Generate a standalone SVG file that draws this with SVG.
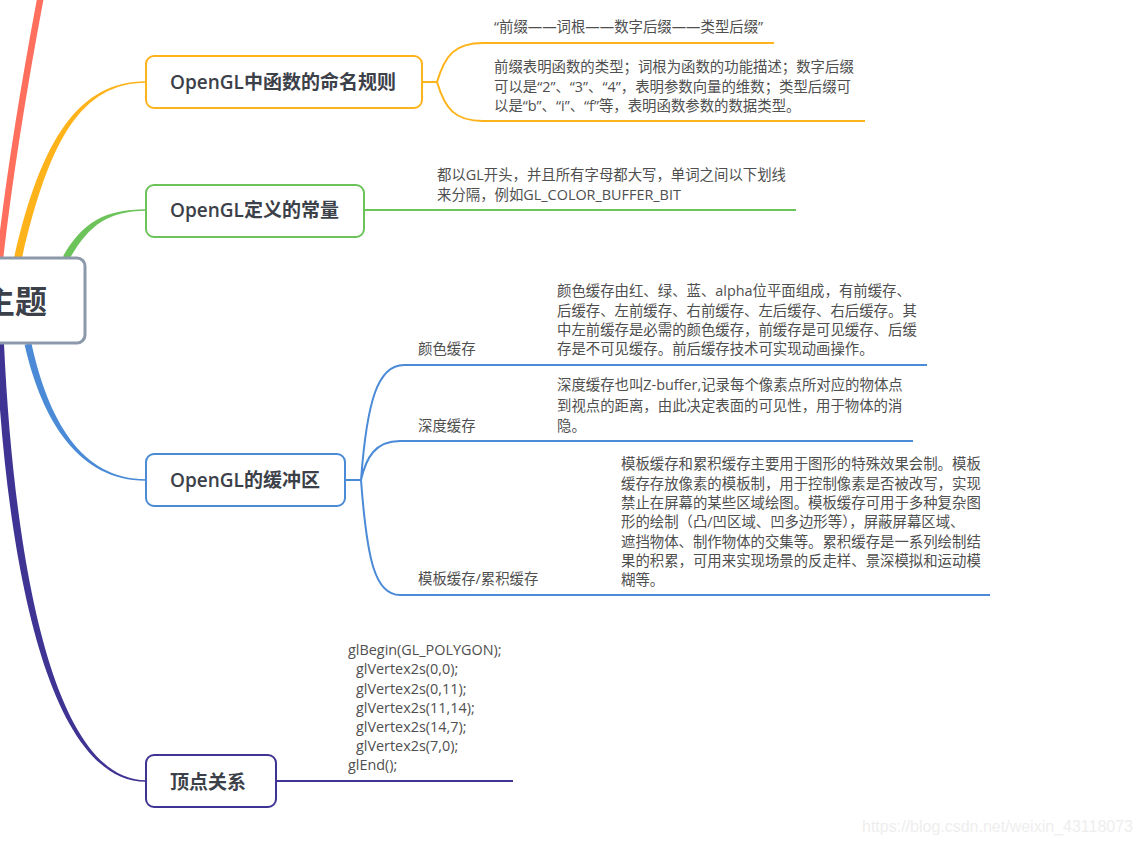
<svg xmlns="http://www.w3.org/2000/svg" width="1141" height="845" viewBox="0 0 1141 845">
<style>
  .node rect { fill: #ffffff; stroke-width: 2; }
  .ntext { font-family: "Open Sans", "Noto Sans CJK SC", sans-serif; font-size: 19px; font-weight: 600; fill: #3b4049; }
  .desc { font-family: "Open Sans", "Noto Sans CJK SC", sans-serif; font-size: 14.4px; fill: #4f4f4f; }
  .line { fill: none; stroke-width: 2; }
  .orange { stroke: #ffb31a; }
  .green { stroke: #6cc35a; }
  .blue { stroke: #4a8ad6; }
  .purple { stroke: #3f3494; }
</style>
<rect x="0" y="0" width="1141" height="845" fill="#ffffff"/>
<g id="connectors">
  <path d="M 0 258 C 10 170, 25 80, 41 -5" fill="none" stroke="#ff6f5e" stroke-width="6.5"/>
  <path d="M 14 258 C 41 139, 79 81.2, 146 81.2 L 146 82.8 C 81 83, 49 141, 22 258 Z" fill="#ffb31a"/>
  <path d="M 63 256.3 C 82 223, 104 209.2, 146 209.2 L 146 210.8 C 106 211, 88 227, 69 259.7 Z" fill="#6cc35a"/>
  <path d="M 31.4 343.2 C 48 419, 81 479.2, 146 479.2 L 146 480.8 C 79 481, 42 421, 24.6 344.8 Z" fill="#4a8ad6"/>
  <path d="M 4 344 C 14 558, 52 780.2, 146 780.2 L 146 781.8 C 48 782, 6 562, -4 344 Z" fill="#3f3494"/>
  <path class="line orange" d="M 422 82 H 437 M 437 82 C 445 55, 455 43, 483 43 H 774 M 437 82 C 445 109, 455 121, 483 121 H 865"/>
  <path class="line green" d="M 364 210 H 796"/>
  <path class="line blue" d="M 345 480 H 361 M 361 480 C 367 400, 378 365, 404 365 H 927 M 361 480 C 366 458, 375 441, 400 441 H 913 M 361 480 C 367 560, 375 595, 400 595 H 990"/>
  <path class="line purple" d="M 276 781 H 513"/>
</g>
<g id="center">
  <rect x="-12" y="258" width="97" height="85" rx="8" fill="#ffffff" stroke="#8c99aa" stroke-width="3"/>
  <text x="47" y="313" text-anchor="end" font-family="Noto Sans CJK SC, sans-serif" font-size="32" font-weight="bold" fill="#3b4049">主题</text>
</g>
<g id="node1" class="node">
  <rect class="orange" x="146" y="56" width="276" height="52" rx="8"/>
  <text class="ntext" x="170" y="89">OpenGL中函数的命名规则</text>
</g>
<g id="node1-sub">
  <text class="desc" x="494" y="32">“前缀——词根——数字后缀——类型后缀”</text>
  <text class="desc" x="494" y="72">前缀表明函数的类型；词根为函数的功能描述；数字后缀</text>
  <text class="desc" x="494" y="92">可以是“2”、“3”、“4”，表明参数向量的维数；类型后缀可</text>
  <text class="desc" x="494" y="111">以是“b”、“i”、“f”等，表明函数参数的数据类型。</text>
</g>
<g id="node2" class="node">
  <rect class="green" x="146" y="185" width="218" height="52" rx="8"/>
  <text class="ntext" x="170" y="217">OpenGL定义的常量</text>
</g>
<g id="node2-sub">
  <text class="desc" x="437" y="180">都以GL开头，并且所有字母都大写，单词之间以下划线</text>
  <text class="desc" x="437" y="200">来分隔，例如GL_COLOR_BUFFER_BIT</text>
</g>
<g id="node3" class="node">
  <rect class="blue" x="146" y="454" width="199" height="52" rx="8"/>
  <text class="ntext" x="170" y="487">OpenGL的缓冲区</text>
</g>
<g id="color-buffer">
  <text class="desc" x="418" y="354">颜色缓存</text>
  <text class="desc" x="557" y="296">颜色缓存由红、绿、蓝、alpha位平面组成，有前缓存、</text>
  <text class="desc" x="557" y="316">后缓存、左前缓存、右前缓存、左后缓存、右后缓存。其</text>
  <text class="desc" x="557" y="335">中左前缓存是必需的颜色缓存，前缓存是可见缓存、后缓</text>
  <text class="desc" x="557" y="354">存是不可见缓存。前后缓存技术可实现动画操作。</text>
</g>
<g id="depth-buffer">
  <text class="desc" x="418" y="431">深度缓存</text>
  <text class="desc" x="557" y="390">深度缓存也叫Z-buffer,记录每个像素点所对应的物体点</text>
  <text class="desc" x="557" y="411">到视点的距离，由此决定表面的可见性，用于物体的消</text>
  <text class="desc" x="557" y="431">隐。</text>
</g>
<g id="stencil-buffer">
  <text class="desc" x="418" y="584">模板缓存/累积缓存</text>
  <text class="desc" x="621" y="469">模板缓存和累积缓存主要用于图形的特殊效果会制。模板</text>
  <text class="desc" x="621" y="489">缓存存放像素的模板制，用于控制像素是否被改写，实现</text>
  <text class="desc" x="621" y="508">禁止在屏幕的某些区域绘图。模板缓存可用于多种复杂图</text>
  <text class="desc" x="621" y="527">形的绘制（凸/凹区域、凹多边形等），屏蔽屏幕区域、</text>
  <text class="desc" x="621" y="547">遮挡物体、制作物体的交集等。累积缓存是一系列绘制结</text>
  <text class="desc" x="621" y="566">果的积累，可用来实现场景的反走样、景深模拟和运动模</text>
  <text class="desc" x="621" y="585">糊等。</text>
</g>
<g id="node4" class="node">
  <rect class="purple" x="146" y="755" width="130" height="52" rx="8"/>
  <text class="ntext" x="170" y="789" font-weight="bold">顶点关系</text>
</g>
<g id="node4-sub">
  <text class="desc" x="348" y="655">glBegin(GL_POLYGON);</text>
  <text class="desc" x="356" y="674">glVertex2s(0,0);</text>
  <text class="desc" x="356" y="694">glVertex2s(0,11);</text>
  <text class="desc" x="356" y="713">glVertex2s(11,14);</text>
  <text class="desc" x="356" y="732">glVertex2s(14,7);</text>
  <text class="desc" x="356" y="751">glVertex2s(7,0);</text>
  <text class="desc" x="348" y="770">glEnd();</text>
</g>
<text x="862" y="832" font-family="Liberation Sans, sans-serif" font-size="16" fill="#eeeeee">https://blog.csdn.net/weixin_43118073</text>
</svg>
